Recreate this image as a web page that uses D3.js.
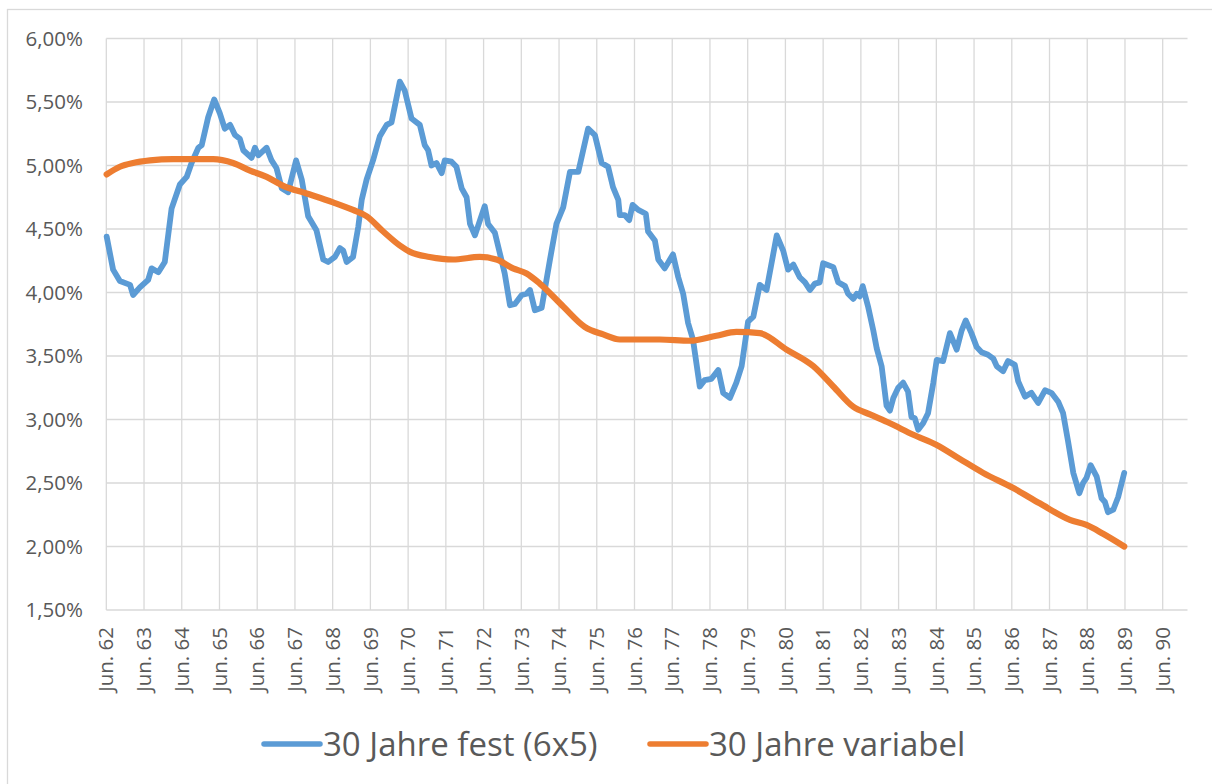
<!DOCTYPE html>
<meta charset="utf-8">
<style>
body { margin: 0; background: #fff; }
text { font-family: "Open Sans", "Liberation Sans", sans-serif; fill: #595959; }
.grid line { stroke: #d9d9d9; stroke-width: 1.3px; }
</style>
<body>
<svg width="1212" height="784"></svg>
<script src="https://d3js.org/d3.v7.min.js"></script>
<script>
// x-axis tick labels (one per June)
var xTickLabels = d3.range(62, 91).map(function(y) { return "Jun. " + y; });
var yTicks = [1.5, 2.0, 2.5, 3.0, 3.5, 4.0, 4.5, 5.0, 5.5, 6.0];

// 30 Jahre fest (6x5)
var fixYears = [1962.43, 1962.60, 1962.78, 1963.05, 1963.13, 1963.31, 1963.53, 1963.62, 1963.80, 1963.97,
  1964.15, 1964.37, 1964.55, 1964.68, 1964.86, 1964.95, 1965.12, 1965.28, 1965.43, 1965.56,
  1965.70, 1965.83, 1965.96, 1966.05, 1966.27, 1966.36, 1966.45, 1966.67, 1966.80, 1966.93,
  1967.07, 1967.24, 1967.45, 1967.60, 1967.77, 1967.99, 1968.17, 1968.30, 1968.48, 1968.61,
  1968.70, 1968.79, 1968.96, 1969.10, 1969.19, 1969.32, 1969.49, 1969.67, 1969.85, 1969.98,
  1970.20, 1970.33, 1970.51, 1970.73, 1970.86, 1970.95, 1971.04, 1971.17, 1971.31, 1971.39,
  1971.57, 1971.70, 1971.84, 1971.97, 1972.06, 1972.19, 1972.45, 1972.54, 1972.72, 1972.85,
  1972.98, 1973.12, 1973.25, 1973.43, 1973.56, 1973.65, 1973.78, 1973.96, 1974.18, 1974.35,
  1974.53, 1974.71, 1974.93, 1975.19, 1975.37, 1975.55, 1975.72, 1975.85, 1975.99, 1976.03,
  1976.16, 1976.28, 1976.37, 1976.52, 1976.72, 1976.78, 1976.96, 1977.05, 1977.22, 1977.44,
  1977.58, 1977.71, 1977.84, 1977.97, 1978.15, 1978.28, 1978.46, 1978.64, 1978.77, 1978.95,
  1979.12, 1979.26, 1979.43, 1979.57, 1979.74, 1979.92, 1980.19, 1980.36, 1980.49, 1980.63,
  1980.80, 1980.94, 1981.07, 1981.20, 1981.33, 1981.42, 1981.69, 1981.82, 1982.00, 1982.08,
  1982.22, 1982.31, 1982.39, 1982.47, 1982.61, 1982.75, 1982.84, 1982.97, 1983.10, 1983.19,
  1983.28, 1983.41, 1983.54, 1983.67, 1983.76, 1983.85, 1983.94, 1984.07, 1984.20, 1984.34,
  1984.43, 1984.60, 1984.78, 1984.96, 1985.09, 1985.20, 1985.35, 1985.49, 1985.62, 1985.79,
  1985.93, 1986.02, 1986.19, 1986.32, 1986.50, 1986.59, 1986.77, 1986.94, 1987.12, 1987.30,
  1987.47, 1987.65, 1987.78, 1987.91, 1988.05, 1988.21, 1988.31, 1988.40, 1988.51, 1988.67,
  1988.80, 1988.89, 1988.97, 1989.11, 1989.24, 1989.40];
var fixRates = [4.44, 4.18, 4.09, 4.06, 3.98, 4.04, 4.10, 4.19, 4.16, 4.24,
  4.66, 4.85, 4.91, 5.02, 5.14, 5.16, 5.38, 5.52, 5.41, 5.29,
  5.32, 5.24, 5.21, 5.12, 5.06, 5.14, 5.08, 5.14, 5.04, 4.98,
  4.82, 4.79, 5.04, 4.89, 4.60, 4.49, 4.26, 4.24, 4.28, 4.35,
  4.33, 4.24, 4.28, 4.52, 4.73, 4.89, 5.04, 5.23, 5.32, 5.34,
  5.66, 5.59, 5.37, 5.32, 5.16, 5.12, 5.00, 5.02, 4.94, 5.04,
  5.03, 4.99, 4.82, 4.75, 4.54, 4.45, 4.68, 4.54, 4.47, 4.31,
  4.15, 3.90, 3.91, 3.98, 3.99, 4.02, 3.86, 3.88, 4.26, 4.54,
  4.67, 4.95, 4.95, 5.29, 5.24, 5.02, 4.99, 4.83, 4.73, 4.61,
  4.61, 4.57, 4.69, 4.65, 4.62, 4.48, 4.41, 4.26, 4.19, 4.30,
  4.12, 3.99, 3.76, 3.63, 3.26, 3.31, 3.32, 3.39, 3.21, 3.17,
  3.29, 3.42, 3.77, 3.81, 4.06, 4.02, 4.45, 4.33, 4.18, 4.22,
  4.12, 4.08, 4.02, 4.07, 4.08, 4.23, 4.20, 4.08, 4.05, 3.99,
  3.95, 3.99, 3.97, 4.05, 3.89, 3.70, 3.56, 3.42, 3.11, 3.07,
  3.17, 3.25, 3.29, 3.22, 3.02, 3.01, 2.92, 2.97, 3.05, 3.29,
  3.47, 3.46, 3.68, 3.55, 3.70, 3.78, 3.68, 3.57, 3.53, 3.51,
  3.48, 3.42, 3.38, 3.46, 3.43, 3.30, 3.18, 3.21, 3.13, 3.23,
  3.21, 3.14, 3.05, 2.83, 2.58, 2.42, 2.50, 2.54, 2.64, 2.55,
  2.38, 2.35, 2.27, 2.29, 2.39, 2.58];

// 30 Jahre variabel
var varYears = [1962.43, 1962.78, 1963.13, 1963.58, 1964.19, 1965.25, 1965.78, 1966.23, 1966.67, 1967.11,
  1967.73, 1968.43, 1968.96, 1969.32, 1969.76, 1970.20, 1970.47, 1970.99, 1971.61, 1972.32,
  1972.76, 1973.20, 1973.56, 1973.91, 1974.53, 1975.10, 1975.59, 1976.03, 1977.09, 1977.89,
  1978.59, 1979.12, 1979.74, 1980.45, 1981.16, 1981.69, 1982.22, 1982.66, 1983.19, 1983.81,
  1984.43, 1985.04, 1985.66, 1986.46, 1987.16, 1987.96, 1988.40, 1988.84, 1989.40];
var varRates = [4.93, 4.99, 5.02, 5.04, 5.05, 5.05, 5.02, 4.96, 4.91, 4.84,
  4.78, 4.71, 4.65, 4.60, 4.48, 4.37, 4.32, 4.28, 4.26, 4.28,
  4.26, 4.19, 4.15, 4.07, 3.89, 3.73, 3.67, 3.63, 3.63, 3.62,
  3.66, 3.69, 3.68, 3.55, 3.42, 3.26, 3.10, 3.04, 2.97, 2.88,
  2.80, 2.69, 2.58, 2.46, 2.34, 2.21, 2.17, 2.10, 2.00];

var seriesNames = ["30 Jahre fest (6x5)", "30 Jahre variabel"];
var seriesColors = ["#5b9bd5", "#ed7d31"];

var svg = d3.select("svg");

// chart area border
svg.append("rect")
    .attr("x", 7.5).attr("y", 9.5)
    .attr("width", 1230).attr("height", 800)
    .style("fill", "none").style("stroke", "#d9d9d9").style("stroke-width", 1.3);

var x = d3.scaleLinear().domain([1962.42, 1990.42]).range([106.3, 1162.7]);
var y = d3.scaleLinear().domain([1.5, 6]).range([610, 38.5]);
var plotLeft = x.range()[0], plotRight = 1187.5;

var grid = svg.append("g").attr("class", "grid");
grid.selectAll(".h").data(yTicks).enter().append("line")
    .attr("x1", plotLeft).attr("x2", plotRight)
    .attr("y1", function(d) { return y(d); }).attr("y2", function(d) { return y(d); });
grid.selectAll(".v").data(xTickLabels).enter().append("line")
    .attr("x1", function(d, i) { return x(1962.42 + i); })
    .attr("x2", function(d, i) { return x(1962.42 + i); })
    .attr("y1", y(6)).attr("y2", y(1.5));

// y labels
var fmt = function(v) { return d3.format(".2f")(v).replace(".", ",") + "%"; };
svg.append("g").selectAll("text").data(yTicks).enter().append("text")
    .attr("x", 83).attr("y", function(d) { return y(d); })
    .attr("dy", "0.35em")
    .attr("text-anchor", "end")
    .style("font-size", "20.5px")
    .text(fmt);

// x labels, rotated
svg.append("g").selectAll("text").data(xTickLabels).enter().append("text")
    .attr("transform", function(d, i) { return "translate(" + x(1962.42 + i) + ",627) rotate(-90)"; })
    .attr("dy", "0.35em")
    .attr("text-anchor", "end")
    .style("font-size", "20.5px")
    .text(function(d) { return d; });

var line = d3.line()
    .x(function(d) { return x(d[0]); })
    .y(function(d) { return y(d[1]); });

var series = [d3.zip(fixYears, fixRates), d3.zip(varYears, varRates)];

svg.append("path")
    .attr("d", line(series[0]))
    .style("fill", "none").style("stroke", seriesColors[0])
    .style("stroke-width", 5.8).style("stroke-linejoin", "round").style("stroke-linecap", "round");

svg.append("path")
    .attr("d", line.curve(d3.curveMonotoneX)(series[1]))
    .style("fill", "none").style("stroke", seriesColors[1])
    .style("stroke-width", 6.2).style("stroke-linejoin", "round").style("stroke-linecap", "round");

// legend
var legendX = [264, 650];
var legend = svg.append("g").selectAll("g").data(seriesNames).enter().append("g")
    .attr("transform", function(d, i) { return "translate(" + legendX[i] + ",744)"; });
legend.append("line")
    .attr("x1", 0).attr("x2", 56)
    .style("stroke", function(d, i) { return seriesColors[i]; })
    .style("stroke-width", 5.5).style("stroke-linecap", "round");
legend.append("text")
    .attr("x", 59).attr("dy", "0.35em")
    .style("font-size", "33px")
    .text(function(d) { return d; });
</script>
</body>
</html>
